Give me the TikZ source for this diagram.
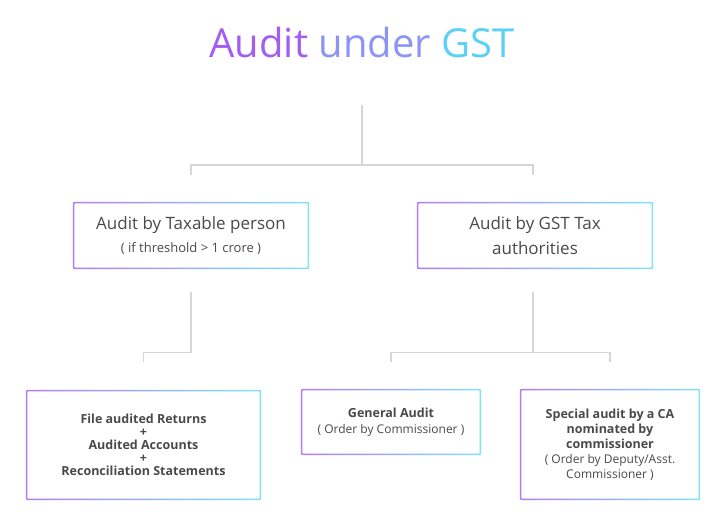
\documentclass[tikz,border=0pt]{standalone}
\usepackage{fontspec}
\setmainfont{Open Sans}
\usetikzlibrary{positioning,backgrounds}
\definecolor{purp}{HTML}{B57BF2}
\definecolor{cyanb}{HTML}{7FE3F7}
\definecolor{txt}{HTML}{4A4A4A}
\definecolor{wire}{HTML}{D6D6D6}
\tikzset{
  card/.style={text=txt, align=center, inner sep=0pt},
  link/.style={draw=wire, line width=1.3pt},
}
% gradient frame round a node
\newcommand{\gframe}[1]{%
  \shade[left color=purp, right color=cyanb, rounded corners=2pt]
    (#1.south west) rectangle (#1.north east);
  \fill[white, rounded corners=1pt]
    ([shift={(1.5,-1.5)}]#1.south west) rectangle ([shift={(-1.5,1.5)}]#1.north east);}
\newcommand{\subline}{\fontsize{12}{16}\selectfont\mdseries}
\begin{document}
\begin{tikzpicture}[x=1pt,y=-1pt]
    \useasboundingbox (0,0) rectangle (724,520);
    % title
    \node[font=\fontsize{40}{44}\selectfont] (title) at (362,42)
        {\textcolor[HTML]{A35DF0}{Audit} \textcolor[HTML]{8C95F4}{under} \textcolor[HTML]{5FD0F5}{GST}};
    % boxes
    \node[card, font=\fontsize{17}{22}\selectfont, minimum width=236pt, minimum height=67pt] (tax) at (191,235.5)
        {Audit by Taxable person\\[1pt]
         \fontsize{13}{16}\selectfont ( if threshold > 1 crore )};
    \node[card, font=\fontsize{17}{25}\selectfont, minimum width=236pt, minimum height=67pt] (auth) at (535,235.5)
        {Audit by GST Tax\\ authorities};
    \node[card, font=\fontsize{12.5}{13}\selectfont\bfseries, minimum width=235pt, minimum height=110pt] (file) at (143.5,445)
        {File audited Returns\\ +\\ Audited Accounts\\ +\\ Reconciliation Statements};
    \node[card, font=\fontsize{12.5}{16}\selectfont\bfseries, minimum width=180pt, minimum height=66pt] (gen) at (391,422)
        {General Audit\\ \subline ( Order by Commissioner )};
    \node[card, font=\fontsize{12.5}{15}\selectfont\bfseries, minimum width=180pt, minimum height=111pt] (spec) at (610,444.5)
        {Special audit by a CA\\ nominated by\\ commissioner\\
         \subline ( Order by Deputy/Asst.\\ \subline Commissioner )};
    \begin{scope}[on background layer]
        \gframe{tax} \gframe{auth} \gframe{file} \gframe{gen} \gframe{spec}
    \end{scope}
    % connectors
    \coordinate (top) at (362,105);
    \coordinate (taxin) at ([yshift=27]tax.north);
    \coordinate (authin) at ([xshift=-2,yshift=27]auth.north);
    \coordinate (taxout) at ([yshift=-23]tax.south);
    \coordinate (authout) at ([xshift=-2,yshift=-23]auth.south);
    \coordinate (filein) at ([yshift=28]file.north);
    \coordinate (genin) at ([yshift=27]gen.north);
    \coordinate (specin) at ([yshift=27]spec.north);
    \draw[link] (top) -- ++(0,60) coordinate (hub);
    \draw[link] (taxin) |- (hub) -| (authin);
    \draw[link] (taxout) -- ++(0,60) -| (filein);
    \draw[link] (authout) -- ++(0,60) coordinate (hubb);
    \draw[link] (genin) |- (hubb) -| (specin);
\end{tikzpicture}
\end{document}
